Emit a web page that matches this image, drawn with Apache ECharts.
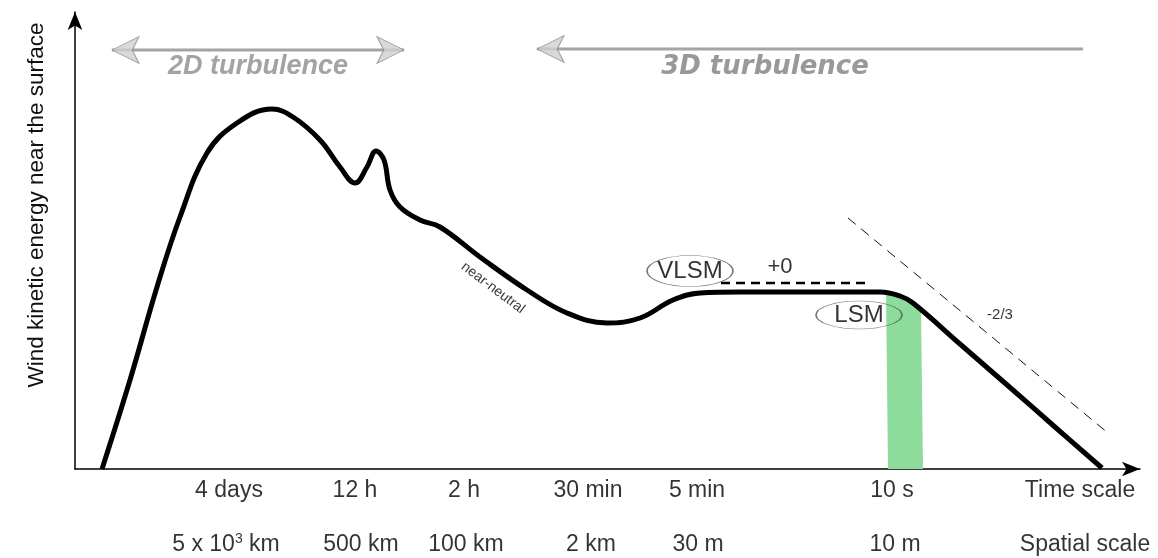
<!DOCTYPE html>
<html>
<head>
<meta charset="utf-8">
<title>Wind kinetic energy spectrum</title>
<script src="https://cdn.jsdelivr.net/npm/echarts@6/dist/echarts.min.js"></script>
<style>
    html, body { margin: 0; padding: 0; background: #fff; }
    #chart { width: 1158px; height: 558px; }
</style>
</head>
<body>
<div id="chart"></div>
<script>
/*==================== 数据 ====================*/
// energy curve, schematic units (x: scale axis, y: energy)
var energyCurve = [
    [27, 0], [55, 89], [82, 182], [105, 252], [132, 316], [162, 346], [197, 360],
    [218, 352], [245, 329], [265, 302], [280, 286], [292, 302], [301, 318], [309, 309],
    [315, 279], [325, 262], [345, 249], [365, 242], [405, 212], [452, 179], [492, 156],
    [532, 146], [565, 151], [598, 169], [625, 176], [665, 177], [805, 177], [825, 173],
    [838, 166], [885, 125], [931, 85], [980, 42], [1027, 1]
];
var plateauLine = [[646, 186], [794, 186]];   // +0 slope
var inertialLine = [[773, 251], [1033, 36]];  // -2/3 slope
var lsmBand = [[811, 179], [826, 175], [846, 160], [848, 0], [813, 0]];

var arrow2D = [[37, 419], [329, 419]];
var arrow3D = [[462, 420], [1008, 420]];

var timeLabels = ['4 days', '12 h', '2 h', '30 min', '5 min', '10 s', 'Time scale'];
var timeX = [154, 280, 389, 513, 622, 817, 1005];
var spaceLabels = ['5 x 10{sup|3} km', '500 km', '100 km', '2 km', '30 m', '10 m', 'Spatial scale'];
var spaceX = [151, 286, 391, 516, 623, 820, 1010];

var FONT = 'Liberation Sans, Arial, sans-serif';

var myChart = echarts.init(document.getElementById('chart'));

// 刻度文字 (两行)
var tickData = [];
timeLabels.forEach(function (t, i) {
    tickData.push({ value: [timeX[i], 0], label: { formatter: t, offset: [0, 22] } });
});
spaceLabels.forEach(function (t, i) {
    tickData.push({ value: [spaceX[i], 0], label: { formatter: t, offset: [0, 76] } });
});

function textPoint(pos, txt, style) {
    return {
        value: pos,
        symbolSize: 0,
        label: Object.assign({ show: true, formatter: txt, position: 'inside', textBorderWidth: 0 }, style)
    };
}
function ellipsePoint(pos, txt, size) {
    return {
        value: pos,
        symbol: 'circle',
        symbolSize: size,
        itemStyle: { color: 'rgba(255,255,255,0)', borderColor: '#555', borderWidth: 1 },
        label: { show: true, formatter: txt, position: 'inside', fontSize: 24, color: '#000', textBorderWidth: 0, fontFamily: FONT }
    };
}
function headPoint(pos, rot) {
    return {
        value: pos,
        symbol: 'arrow',
        symbolSize: [20, 27],
        symbolRotate: rot,
        itemStyle: { color: '#cfcfcf', borderColor: '#8f8f8f', borderWidth: 1 },
        label: { show: false }
    };
}

var notes = [
    headPoint([arrow2D[0][0], arrow2D[0][1]], 90),
    headPoint([arrow2D[1][0], arrow2D[1][1]], -90),
    headPoint([arrow3D[0][0], arrow3D[0][1]], 90),
    textPoint([183, 402], '2D turbulence', { fontSize: 27, fontWeight: 'bold', fontStyle: 'italic', color: '#8c8c8c', fontFamily: FONT }),
    textPoint([690, 402], '3D turbulence', { fontSize: 26, fontWeight: 'bold', fontStyle: 'italic', color: '#808080', fontFamily: 'DejaVu Sans, sans-serif' }),
    ellipsePoint([615, 198], 'VLSM', [86, 31]),
    ellipsePoint([784, 154], 'LSM', [86, 28]),
    textPoint([705, 202], '+0', { fontSize: 22, color: '#000', fontFamily: FONT }),
    textPoint([925, 154], '-2/3', { fontSize: 15, color: '#000', fontFamily: FONT }),
    textPoint([418, 181], 'near-neutral', { fontSize: 14, color: '#000', rotate: -37, fontFamily: FONT })
];

var option = {
    animation: false,
    backgroundColor: '#fff',
    grid: { left: 75, right: 18, top: 12, bottom: 89 },
    xAxis: {
        type: 'value', min: 0, max: 1065,
        axisLine: { show: true, symbol: ['none', 'arrow'], symbolSize: [11, 18], lineStyle: { color: '#000', width: 1.5 } },
        axisTick: { show: false }, axisLabel: { show: false }, splitLine: { show: false }
    },
    yAxis: {
        type: 'value', min: 0, max: 457,
        axisLine: { show: true, symbol: ['none', 'arrow'], symbolSize: [11, 18], lineStyle: { color: '#000', width: 1.5 } },
        axisTick: { show: false }, axisLabel: { show: false }, splitLine: { show: false }
    },
    graphic: [{
        type: 'text',
        x: 37, y: 205,
        rotation: Math.PI / 2,
        style: {
            text: 'Wind kinetic energy near the surface',
            fontSize: 22.5, fontFamily: FONT, fill: '#111',
            textAlign: 'center', textVerticalAlign: 'middle'
        }
    }],
    series: [
        { // LSM 绿色带
            type: 'custom',
            z: 1,
            renderItem: function (params, api) {
                var pts = lsmBand.map(function (p) { return api.coord(p); });
                return { type: 'polygon', shape: { points: pts }, style: { fill: '#8edc9c' } };
            },
            data: [0]
        },
        {
            type: 'line', z: 3, data: energyCurve, smooth: 0.4, symbol: 'none',
            lineStyle: { color: '#000', width: 5 }
        },
        {
            type: 'line', z: 3, data: plateauLine, symbol: 'none',
            lineStyle: { color: '#000', width: 2.5, type: [9, 6] }
        },
        {
            type: 'line', z: 3, data: inertialLine, symbol: 'none',
            lineStyle: { color: '#111', width: 1, type: [10, 7] }
        },
        { type: 'line', z: 3, data: arrow2D, symbol: 'none', lineStyle: { color: '#a4a4a4', width: 3 } },
        { type: 'line', z: 3, data: arrow3D, symbol: 'none', lineStyle: { color: '#a4a4a4', width: 3 } },
        { // 注释
            type: 'scatter', z: 4, clip: false, data: notes, silent: true
        },
        { // 刻度文字
            type: 'scatter', z: 4, clip: false, symbolSize: 0, silent: true,
            data: tickData,
            label: {
                show: true, position: 'inside', fontSize: 23, color: '#000', textBorderWidth: 0, fontFamily: FONT,
                rich: { sup: { fontSize: 14, color: '#000', fontFamily: FONT, padding: [0, 0, 12, 0] } }
            }
        }
    ]
};

myChart.setOption(option);
</script>
</body>
</html>
